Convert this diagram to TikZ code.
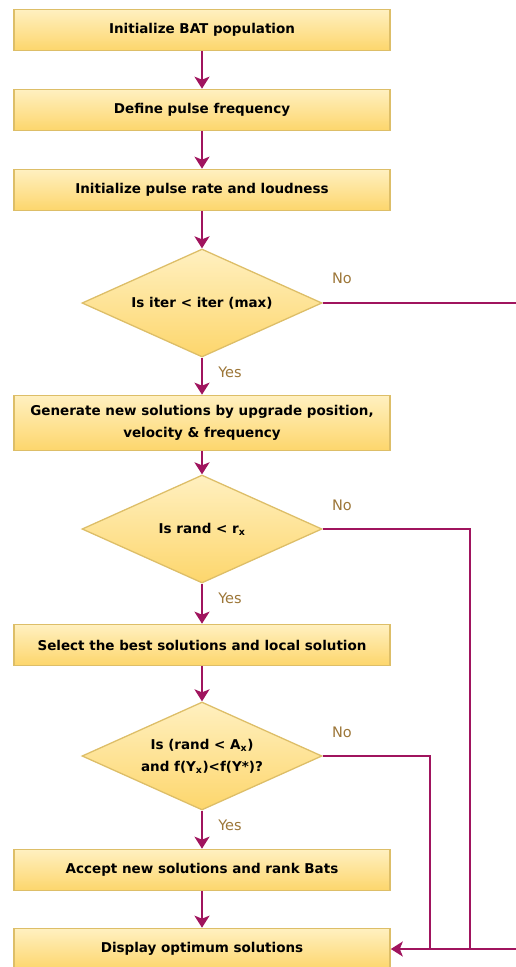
\documentclass[tikz,border=0pt]{standalone}
\usepackage{fontspec}
\setmainfont{DejaVu Sans}
\usetikzlibrary{shapes.geometric,arrows.meta}
\definecolor{arrowc}{HTML}{A0145E}
\definecolor{boxedge}{HTML}{DDBE68}
\definecolor{boxtop}{HTML}{FFF0C0}
\definecolor{boxbot}{HTML}{FDD66C}
\definecolor{labc}{HTML}{9C7638}
\tikzset{
  stepbox/.style={rectangle, draw=boxedge, line width=1.6pt, top color=boxtop, bottom color=boxbot,
    minimum width=376pt, minimum height=41pt, inner sep=2pt, align=center,
    font=\fontsize{13.5}{22}\selectfont\bfseries},
  decide/.style={diamond, aspect=2.2, draw=boxedge, line width=1.3pt, top color=boxtop, bottom color=boxbot,
    minimum width=240pt, minimum height=108pt, inner sep=0pt, align=center,
    font=\fontsize{13.5}{22}\selectfont\bfseries},
  flow/.style={draw=arrowc, line width=2.6pt, -{Stealth[length=12pt,width=15pt,inset=3pt]}},
  branch/.style={draw=arrowc, line width=2pt},
  lab/.style={text=labc, font=\fontsize{14.5}{16}\selectfont, inner sep=0pt}
}
\begin{document}
\begin{tikzpicture}[x=1pt,y=-1pt]
\useasboundingbox (0,0) rectangle (515,967);
\node[stepbox] (b1) at (202,30) {Initialize BAT population};
\node[stepbox] (b2) at (202,110) {Define pulse frequency};
\node[stepbox] (b3) at (202,190) {Initialize pulse rate and loudness};
\node[decide] (d1) at (202,303) {Is iter < iter (max)};
\node[stepbox, minimum height=55pt] (b4) at (202,423) {Generate new solutions by upgrade position,\\velocity \& frequency};
\node[decide] (d2) at (202,529) {Is rand < r\textsubscript{x}};
\node[stepbox] (b5) at (202,645) {Select the best solutions and local solution};
\node[decide] (d3) at (202,756) {Is (rand < A\textsubscript{x})\\and f(Y\textsubscript{x})<f(Y*)?};
\node[stepbox] (b6) at (202,870) {Accept new solutions and rank Bats};
\node[stepbox] (b7) at (202,949) {Display optimum solutions};

\draw[flow] (b1) -- (b2);
\draw[flow] (b2) -- (b3);
\draw[flow] (b3) -- (d1);
\draw[flow] (d1) -- (b4);
\draw[flow] (b4) -- (d2);
\draw[flow] (d2) -- (b5);
\draw[flow] (b5) -- (d3);
\draw[flow] (d3) -- (b6);
\draw[flow] (b6) -- (b7);

\coordinate (c1) at (518,303);
\coordinate (c2) at (470,529);
\coordinate (c3) at (430,756);
\coordinate (j2) at (470,949);
\coordinate (j3) at (430,949);
\draw[branch] (d2.east) -- (c2) -- (j2);
\draw[branch] (d3.east) -- (c3) -- (j3);
\draw[branch, -{Stealth[length=12pt,width=15pt,inset=3pt]}] (d1.east) -- (c1) |- (b7.east);

\node[lab] (n1) at (342,278) {No};
\node[lab] (y1) at (230,372) {Yes};
\node[lab] (n2) at (342,505) {No};
\node[lab] (y2) at (230,598) {Yes};
\node[lab] (n3) at (342,732) {No};
\node[lab] (y3) at (230,825) {Yes};
\end{tikzpicture}
\end{document}
